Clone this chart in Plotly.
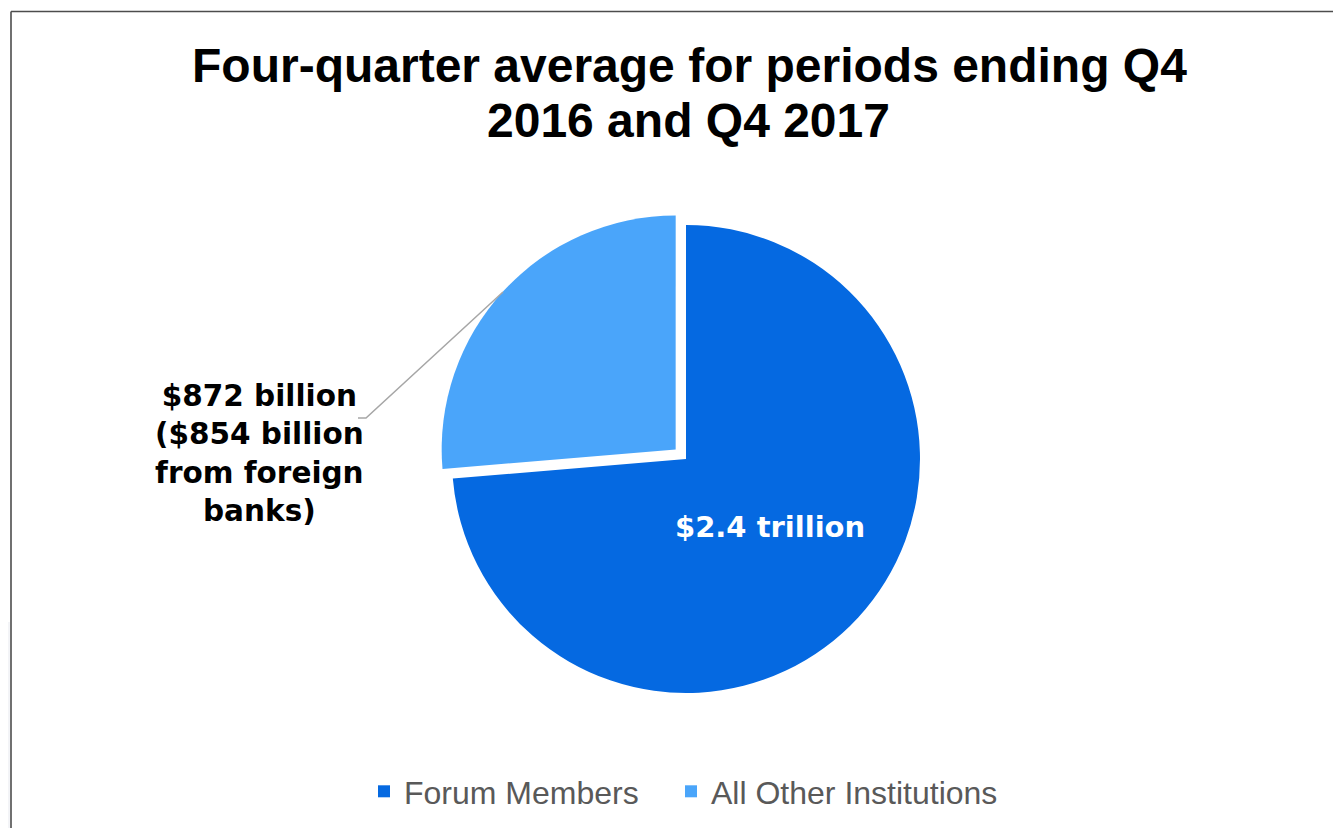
import plotly.graph_objects as go

# ---- data ----
categories = ["Forum Members", "All Other Institutions"]
values_billion = [2440, 872]
slice_colors = ["#0569E1", "#4AA5FA"]
pull_amounts = [0, 0.06]
title_lines = ["Four-quarter average for periods ending Q4", "2016 and Q4 2017"]
forum_label = "$2.4 trillion"
other_label = "$872 billion<br>($854 billion<br>from foreign<br>banks)"

# page has an 8px body margin; figure is sized so it ends at the window edge
OFF = 8
W, H = 1341 - OFF, 828 - OFF

def px_x(x):
    return (x - OFF) / W

def px_y(y):
    return 1 - (y - OFF) / H

# pie geometry (page pixels)
cx, cy, r = 686, 459, 234
half = r * (1 + max(pull_amounts))

fig = go.Figure()
fig.add_trace(go.Pie(
    labels=categories,
    values=values_billion,
    sort=False,
    direction="clockwise",
    rotation=0,
    pull=pull_amounts,
    marker=dict(colors=slice_colors, line=dict(width=0)),
    textinfo="none",
    hoverinfo="label+value",
    showlegend=False,
    domain=dict(x=[px_x(cx - half), px_x(cx + half)],
                y=[px_y(cy + half), px_y(cy - half)]),
))

# legend entries (one per category, so each entry can get its own width)
legend_widths = [262, 0]
for name, col, lw in zip(categories, slice_colors, legend_widths):
    fig.add_trace(go.Scatter(
        x=[None], y=[None], mode="markers", name=name,
        marker=dict(symbol="square", size=12, color=col, line=dict(width=0)),
        legendwidth=lw if lw else None, hoverinfo="skip",
    ))

annotations = [
    dict(text=title_lines[0], x=px_x(689), y=px_y(66), xanchor="center", yanchor="middle",
         font=dict(family="Liberation Sans, Arial", size=48, color="#000000", weight="bold")),
    dict(text=title_lines[1], x=px_x(688), y=px_y(120), xanchor="center", yanchor="middle",
         font=dict(family="Liberation Sans, Arial", size=48, color="#000000", weight="bold")),
    dict(text=forum_label, x=px_x(770), y=px_y(527), xanchor="center", yanchor="middle",
         font=dict(family="DejaVu Sans", size=29, color="#FFFFFF", weight="bold")),
    dict(text=other_label, x=px_x(259), y=px_y(453), xanchor="center", yanchor="middle",
         align="center",
         font=dict(family="DejaVu Sans", size=29.5, color="#000000", weight="bold")),
]
for a in annotations:
    a.update(xref="paper", yref="paper", showarrow=False)

shapes = [
    # leader line
    dict(type="path", xref="paper", yref="paper",
         path=f"M {px_x(503)},{px_y(292)} L {px_x(366)},{px_y(418)} L {px_x(358)},{px_y(418)}",
         line=dict(color="#A6A6A6", width=1.5)),
    # faint grey strip at bottom-left
    dict(type="rect", xref="paper", yref="paper", x0=0, x1=px_x(10.3), y0=0, y1=px_y(622),
         fillcolor="#F3F4F7", line=dict(width=0), layer="below"),
    # frame lines
    dict(type="line", xref="paper", yref="paper", x0=px_x(11), x1=1, y0=px_y(11.5), y1=px_y(11.5),
         line=dict(color="#4D4D4D", width=1.6)),
    dict(type="line", xref="paper", yref="paper", x0=px_x(11), x1=px_x(11), y0=0, y1=px_y(11.5),
         line=dict(color="#4D4D4D", width=1.6)),
]

fig.update_xaxes(visible=False)
fig.update_yaxes(visible=False)
fig.update_layout(
    width=W, height=H, autosize=False,
    margin=dict(l=0, r=0, t=0, b=0),
    paper_bgcolor="#FFFFFF", plot_bgcolor="#FFFFFF",
    annotations=annotations, shapes=shapes,
    showlegend=True,
    legend=dict(orientation="h", x=px_x(364), y=px_y(791.5), xanchor="left", yanchor="middle",
                font=dict(family="Liberation Sans, Arial", size=32, color="#595959"),
                itemwidth=30,
                bgcolor="rgba(0,0,0,0)"),
)

fig.write_html("out.html")
